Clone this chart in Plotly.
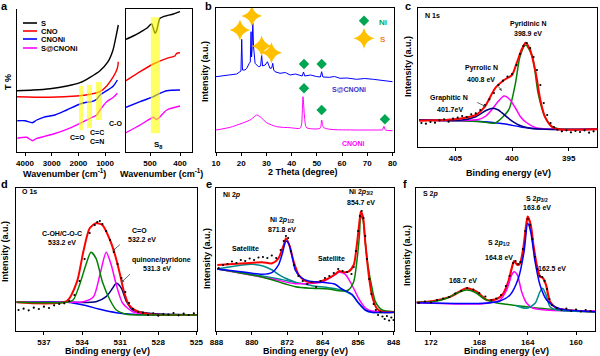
import plotly.graph_objects as go

FONT = "Arial, Liberation Sans, sans-serif"
W, H = 600, 356

# ---------------- Panel a : FTIR ----------------
a_wn_S = [4300, 3700, 3063, 2426, 1939, 1564, 1189, 889, 702, 563, 503]
a_T_S = [61.3, 62, 63.3, 66, 69.3, 74.7, 81.3, 90.3, 102, 119, 127]
a_wn_CNO = [4300, 3063, 2062, 1564, 1189, 938, 689, 539, 503]
a_T_CNO = [55.3, 54.7, 56, 57.7, 60.3, 66, 75.3, 83.7, 90.3]
a_wn_CNONi = [4290, 4000, 3726, 3561, 3313, 2875, 2437, 1939, 1688, 1501, 1313, 1189, 938, 689, 539]
a_T_CNONi = [31.3, 31.3, 29.3, 32, 34.7, 37, 42, 48, 49.7, 50.3, 52.7, 57, 61.3, 66, 72]
a_wn_SCNONi = [4290, 3940, 3726, 3561, 3313, 2938, 2437, 1939, 1564, 1313, 1189, 938, 689, 539]
a_T_SCNONi = [13.7, 14.7, 11.3, 13.7, 15.3, 18, 22.7, 28.7, 33.7, 37, 42, 50.3, 54.7, 58.7]
a_names = ["S", "CNO", "CNONi", "S@CNONi"]
a_colors = ["#000000", "#FF0000", "#0000FF", "#FF00FF"]

# inset (S8 region)
ai_wn_S = [580, 556, 533, 511, 500, 494, 489, 483, 478, 472, 467, 456, 444, 422, 400]
ai_T_S = [112.7, 116, 119.7, 123.7, 127, 128, 123.7, 118.7, 121.3, 128.7, 133.7, 135.3, 136.3, 138, 140.3]
ai_wn_CNO = [580, 533, 489, 444, 417, 411, 400]
ai_T_CNO = [71.3, 80.3, 88, 93.7, 96, 98.7, 99.3]
ai_wn_CNONi = [580, 533, 489, 467, 444, 400]
ai_T_CNONi = [44.7, 50.3, 55.3, 58.7, 61.3, 62]
ai_wn_SCNONi = [580, 533, 497, 489, 480, 472, 444, 400]
ai_T_SCNONi = [19.3, 27, 33.7, 34.7, 32.7, 33.7, 42, 46]

# ---------------- Panel b : XRD ----------------
b_theta_SCNONi = [10.0, 12.9, 15.6, 18.2, 19.5, 19.9, 20.2, 20.5, 21.5, 22.2, 23.2, 23.6, 23.9, 24.1, 24.3,
                  24.6, 24.9, 25.5, 26.8, 27.7, 28.1, 28.5, 29.5, 30.4, 31.4, 32.1, 32.5, 32.9, 33.4, 35.4,
                  37.5, 39.4, 41.5, 44.2, 44.7, 45.2, 47.5, 49.8, 51.4, 51.9, 52.4, 55.0, 57.0, 59.2, 62.0,
                  65.8, 69.0, 72.4, 76.0, 80.0]
b_I_SCNONi = [75.3, 76.0, 77.0, 78.0, 80.3, 81.0, 112.7, 82.0, 82.0, 83.7, 88.7, 90.0, 120.3, 95.0, 102.0,
              128.7, 105.0, 88.7, 85.3, 86.0, 97.0, 86.0, 87.0, 90.3, 83.7, 84.0, 88.7, 82.0, 80.3, 78.7,
              79.5, 77.0, 78.0, 76.0, 80.0, 76.0, 77.0, 75.5, 75.0, 80.3, 75.0, 74.7, 75.5, 73.7, 74.0,
              72.7, 73.5, 72.7, 71.5, 70.3]
b_theta_CNONi = [10.0, 15.6, 19.5, 23.5, 25.5, 26.1, 27.5, 30.1, 34.1, 39.4, 43.3, 43.9, 44.5, 45.1, 45.7,
                 46.5, 51.3, 51.9, 52.6, 55.2, 65.8, 75.0, 76.0, 76.6, 77.2, 80.0]
b_I_CNONi = [22.0, 24.7, 28.0, 32.0, 36.0, 37.0, 35.3, 29.3, 25.3, 24.3, 23.7, 27.0, 55.3, 35.0, 25.0,
             23.7, 23.7, 32.0, 24.7, 22.7, 22.0, 22.0, 22.0, 25.7, 22.0, 21.3]
b_S_theta = [19.5, 24.2, 28.1, 32.0]
b_S_I = [122, 136, 106, 99.3]
b_Ni_theta = [44.9, 51.9, 44.9, 51.9, 77.0]
b_Ni_I = [88, 88, 63.7, 42, 32.7]

# ---------------- Panel c : N 1s ----------------
c_bg_x = [408.2, 404.4, 402.1, 400.6, 399.1, 397.9, 396.5, 392.5]
c_bg_y = [27, 26.3, 25, 23, 19.7, 18.3, 17.7, 17.7]
c_pyridinic_x = [408.2, 404.4, 402.7, 401.5, 400.3, 399.7, 399.3, 398.8, 398.2, 397.7, 397.1, 396.5, 395.9, 395.0, 392.5]
c_pyridinic_y = [27, 26.3, 25.3, 24.0, 37, 63.7, 90.3, 102, 90.3, 53.7, 30.3, 21, 18.3, 17.7, 17.7]
c_pyrrolic_x = [408.2, 404.4, 403.0, 402.3, 401.8, 401.2, 400.7, 400.2, 399.7, 399.2, 398.8, 397.9, 396.5, 392.5]
c_pyrrolic_y = [27, 26.5, 27.5, 31, 37, 46, 51, 47.5, 39, 29.5, 25, 19.3, 17.7, 17.7]
c_graphitic_x = [408.2, 404.4, 403.2, 402.7, 402.2, 401.7, 401.2, 400.9, 400.2, 399.4, 398.5, 397.1, 392.5]
c_graphitic_y = [27, 27, 30.3, 33.7, 37, 38.7, 37, 34.3, 27.7, 22, 19, 17.7, 17.7]
c_env_x = [408.2, 405.9, 404.4, 403.2, 402.4, 401.5, 400.7, 400.0, 399.6, 399.1, 398.8, 398.4, 397.9, 397.5,
           397.1, 396.5, 395.9, 392.5]
c_env_y = [26.3, 27, 28.7, 32, 40.3, 58.7, 67, 72, 83.7, 98.7, 104.3, 97, 73.7, 47, 30.3, 20.3, 17.7, 17.7]
c_dat_x = [408.0, 407.6, 407.2, 406.8, 406.4, 406.0, 405.6, 405.2, 404.8, 404.4, 404.0, 403.6, 403.2, 402.8,
           402.4, 402.0, 401.6, 401.2, 400.8, 400.4, 400.0, 399.6, 399.3, 399.0, 398.7, 398.4, 398.1, 397.8,
           397.5, 397.2, 396.9, 396.6, 396.3, 396.0, 395.6, 395.2, 394.8, 394.4, 394.0, 393.6, 393.2, 392.8]
c_dat_y = [24.0, 23.3, 25.0, 24.3, 26.7, 27.7, 25.3, 28.3, 29.3, 31.0, 30.0, 32.7, 33.7, 37.0,
           42.0, 47.7, 54.0, 62.0, 66.3, 70.3, 73.0, 82.0, 93.0, 101.0, 104.0, 99.0, 90.0, 77.0,
           62.0, 44.0, 32.0, 24.0, 20.0, 17.3, 15.7, 16.7, 14.7, 16.0, 15.0, 16.7, 14.3, 15.7]

# ---------------- Panel d : O 1s ----------------
d_bg_x = [539.15, 535.2, 533.9, 532.6, 531.3, 530.0, 524.95]
d_bg_y = [28.7, 28.7, 26, 21.7, 18.3, 16.7, 16]
d_coh_x = [539.15, 535.2, 534.7, 534.2, 533.7, 533.3, 532.9, 532.4, 531.8, 531.3, 530.5, 529.5, 524.95]
d_coh_y = [28.7, 28.7, 31, 46, 66, 78.7, 72.7, 49.3, 31, 21, 16.7, 16, 16]
d_co_x = [539.15, 535.2, 533.9, 533.1, 532.6, 532.1, 531.7, 531.3, 530.8, 530.0, 528.7, 524.95]
d_co_y = [28.7, 28.7, 29.3, 34.3, 56, 78.7, 66, 46, 27.7, 19.3, 16.7, 16]
d_quin_x = [539.15, 535.2, 532.9, 532.1, 531.6, 531.3, 530.9, 530.5, 530.0, 528.7, 524.95]
d_quin_y = [28.7, 28.7, 29.3, 34.3, 42.7, 47.7, 42.7, 29.3, 21, 17.7, 16]
d_env_x = [539.15, 535.2, 534.4, 533.9, 533.4, 532.9, 532.4, 531.8, 531.4, 531.0, 530.7, 530.3, 529.7, 528.7, 524.95]
d_env_y = [28.7, 30, 49.3, 79.3, 102.7, 107.7, 106, 91, 76, 56, 39.3, 26, 20, 16.7, 16]
d_dat_x = [539.0, 538.6, 538.2, 537.8, 537.4, 537.0, 536.6, 536.2, 535.8, 535.4, 535.0, 534.6, 534.2, 533.8,
           533.4, 533.0, 532.8, 532.6, 532.4, 532.1, 531.8, 531.5, 531.2, 530.9, 530.6, 530.3, 530.0, 529.6,
           529.2, 528.8, 528.4, 528.0, 527.6, 527.2, 526.8, 526.4, 526.0, 525.6, 525.2]
d_dat_y = [21.0, 22.3, 20.7, 23.3, 22.0, 24.3, 23.0, 25.7, 27.0, 27.7, 30.0, 36.0, 50.0, 72.0,
           98.0, 106.0, 109.0, 110.0, 107.0, 100.0, 91.0, 79.0, 67.0, 53.0, 39.0, 28.0, 22.0, 19.0,
           18.3, 16.0, 17.7, 15.3, 17.0, 16.3, 18.0, 15.7, 17.3, 16.0, 17.7]

# ---------------- Panel e : Ni 2p ----------------
e_bg_x = [887.8, 881.5, 875.4, 870.2, 866.4, 862.7, 859.7, 857.4, 855.9, 854.4, 852.9, 847.9]
e_bg_y = [62, 57.7, 53.3, 48.7, 45.3, 43.3, 41, 36, 27.7, 21, 18.7, 18.7]
e_sat1_x = [887.8, 885.2, 882.2, 880.0, 877.7, 875.4, 874.0, 872.4, 870.2]
e_sat1_y = [62, 64, 66, 66.7, 65.3, 61, 56.7, 52.7, 48.7]
e_p12_x = [887.8, 881.5, 877.7, 875.4, 874.0, 873.1, 872.3, 871.7, 870.9, 870.2, 869.1, 867.2, 864.2, 861.2,
           859.7, 857.4, 855.9, 854.4, 852.9, 847.9]
e_p12_y = [62, 58.7, 56.7, 58.7, 66, 77.7, 90, 87.7, 74.3, 61, 54.3, 50, 48.7, 46.7, 42, 36.7, 28, 21, 18.7, 18.7]
e_sat2_x = [887.8, 881.5, 875.4, 870.2, 866.4, 864.2, 861.9, 860.3, 858.9, 857.4, 855.9, 854.4, 852.9, 847.9]
e_sat2_y = [62, 57, 52, 47.3, 47.7, 48.7, 54.3, 58.7, 56.7, 46, 32.7, 23.3, 20, 19.3]
e_p32_x = [887.8, 877.7, 870.2, 866.4, 862.7, 859.7, 858.2, 857.0, 856.3, 855.7, 855.4, 854.9, 854.4, 853.8,
           853.0, 852.1, 850.6, 847.9]
e_p32_y = [62, 54, 44.3, 42.7, 42, 40, 41, 49.3, 69.3, 96, 115.3, 111, 89.3, 66, 46, 29.3, 21, 19.3]
e_env_x = [887.8, 885.2, 881.5, 877.7, 875.4, 874.0, 872.8, 872.3, 871.5, 870.6, 869.4, 867.9, 865.7, 862.7,
           861.2, 860.3, 859.3, 858.2, 857.0, 856.3, 855.7, 855.4, 854.9, 854.4, 853.6, 852.9, 851.8, 850.6, 847.9]
e_env_y = [66, 66.7, 67.7, 68.7, 67.7, 72.7, 86, 92.7, 85.3, 70, 56, 50, 48.7, 52.7,
           56.7, 60, 58.7, 59.3, 66, 86, 109.3, 119.3, 114.3, 89.3, 56, 36, 22.7, 19.3, 18.7]
e_dat_x = [887.5, 886.5, 885.5, 884.5, 883.5, 882.5, 881.5, 880.5, 879.5, 878.5, 877.5, 876.5, 875.5, 874.5,
           873.5, 872.8, 872.3, 871.8, 871.2, 870.5, 869.5, 868.5, 867.5, 866.5, 865.5, 864.5, 863.5, 862.5,
           861.5, 860.5, 859.5, 858.5, 857.5, 857.0, 856.5, 856.0, 855.6, 855.2, 854.8, 854.4, 854.0, 853.5,
           853.0, 852.5, 852.0, 851.5, 851.0, 850.5, 850.0, 849.5, 849.0, 848.5, 848.0]
e_dat_y = [63.0, 66.0, 67.0, 69.5, 68.0, 71.0, 70.0, 72.5, 71.0, 73.5, 74.0, 73.0, 75.5, 73.0,
           81.0, 90.0, 95.0, 93.0, 80.0, 66.0, 55.0, 50.0, 47.0, 49.0, 44.0, 50.0, 53.0, 55.0,
           58.0, 62.0, 60.0, 59.0, 57.0, 64.0, 80.0, 100.0, 115.0, 120.0, 113.0, 95.0, 72.0, 52.0,
           37.0, 27.0, 21.0, 16.0, 19.0, 14.5, 12.0, 15.0, 10.5, 13.5, 11.0]

# ---------------- Panel f : S 2p ----------------
f_sox_x = [173.18, 171.8, 170.7, 169.9, 169.05, 168.36, 167.67, 166.84, 165.74, 164.08, 162.98, 161.32, 158.43]
f_sox_y = [28.7, 29.3, 32.7, 37.7, 41, 38.7, 32.7, 28.7, 26.7, 24.3, 22.7, 21, 19.3]
f_p32_x = [173.18, 167.67, 166.29, 165.46, 164.77, 164.3, 164.0, 163.75, 163.39, 162.98, 162.43, 161.6, 160.77, 158.43]
f_p32_y = [28.3, 27.7, 30, 36, 52.7, 79.3, 107.7, 99.3, 69.3, 46, 31, 23.3, 21, 19.3]
f_p12_x = [173.18, 167.67, 166.29, 165.74, 165.32, 165.13, 164.85, 164.5, 164.08, 163.53, 162.15, 158.43]
f_p12_y = [28.3, 27.3, 31, 41, 56, 59.3, 56, 39.3, 27.7, 22.7, 20.7, 20]
f_p3_x = [165.0, 164.08, 163.39, 162.98, 162.76, 162.48, 162.15, 161.6, 158.43]
f_p3_y = [25.5, 22.7, 27.7, 39.3, 42.7, 36, 24.3, 21, 19.3]
f_env_x = [173.18, 171.8, 170.4, 169.05, 168.22, 167.39, 166.56, 166.01, 165.6, 165.32, 165.13, 164.85, 164.63,
           164.36, 164.14, 164.0, 163.75, 163.53, 163.25, 162.98, 162.76, 162.48, 162.15, 161.6, 160.77, 158.43]
f_env_y = [28.7, 30, 34.3, 42.7, 39.3, 31, 32, 37.7, 49.3, 62.7, 70, 66, 67.7,
           82.7, 104.3, 114.3, 106, 86, 66, 54.3, 53.3, 46, 29.3, 22.7, 21, 19.3]
f_dat_x = [173.0, 172.5, 172.0, 171.5, 171.0, 170.5, 170.0, 169.5, 169.0, 168.5, 168.0, 167.5, 167.0, 166.6,
           166.2, 165.8, 165.5, 165.2, 165.0, 164.8, 164.6, 164.4, 164.2, 164.0, 163.8, 163.6, 163.4, 163.2,
           163.0, 162.8, 162.6, 162.4, 162.2, 162.0, 161.6, 161.2, 160.8, 160.4, 160.0, 159.6, 159.2, 158.8]
f_dat_y = [28.0, 29.5, 28.5, 31.0, 32.5, 34.0, 37.5, 40.0, 43.0, 41.5, 38.0, 34.5, 31.0, 32.5,
           36.0, 45.0, 55.0, 68.0, 70.0, 67.0, 69.0, 82.0, 100.0, 112.0, 106.0, 92.0, 74.0, 62.0,
           55.0, 54.0, 50.0, 42.0, 32.0, 26.0, 23.0, 21.0, 22.5, 20.0, 21.5, 19.5, 21.0, 20.0]

RED, GREEN, BLUE, MAG, NAVY, TEAL = "#FF0000", "#008000", "#0000FF", "#FF00FF", "#000080", "#008B8B"

fig = go.Figure()


def ax_names(n):
    return ("x" if n == 1 else f"x{n}"), ("y" if n == 1 else f"y{n}")


def line(x, y, n, color, width=1.5, smooth=True):
    xa, ya = ax_names(n)
    fig.add_trace(go.Scatter(x=x, y=y, xaxis=xa, yaxis=ya, mode="lines",
                             line=dict(color=color, width=width,
                                       shape="spline" if smooth else "linear",
                                       smoothing=0.7 if smooth else None),
                             showlegend=False, hoverinfo="skip"))


def dots(x, y, n):
    xa, ya = ax_names(n)
    fig.add_trace(go.Scatter(x=x, y=y, xaxis=xa, yaxis=ya, mode="markers",
                             marker=dict(color="black", size=2.2),
                             showlegend=False, hoverinfo="skip"))


def marks(x, y, n, symbol, color, size):
    xa, ya = ax_names(n)
    fig.add_trace(go.Scatter(x=x, y=y, xaxis=xa, yaxis=ya, mode="markers",
                             marker=dict(symbol=symbol, color=color, size=size, line=dict(width=0)),
                             showlegend=False, hoverinfo="skip"))


# panel a
for xs, ys, col in zip([a_wn_S, a_wn_CNO, a_wn_CNONi, a_wn_SCNONi],
                       [a_T_S, a_T_CNO, a_T_CNONi, a_T_SCNONi], a_colors):
    line(xs, ys, 1, col, 1.4)
for xs, ys, col in zip([ai_wn_S, ai_wn_CNO, ai_wn_CNONi, ai_wn_SCNONi],
                       [ai_T_S, ai_T_CNO, ai_T_CNONi, ai_T_SCNONi], a_colors):
    line(xs, ys, 2, col, 1.4)

# panel b
line(b_theta_SCNONi, b_I_SCNONi, 3, BLUE, 1.0, smooth=False)
line(b_theta_CNONi, b_I_CNONi, 3, MAG, 1.0)
marks(b_S_theta, b_S_I, 3, "star-diamond", "#FFC000", 15)
marks(b_Ni_theta, b_Ni_I, 3, "diamond", "#00A651", 8)
marks([68.7], [131.3], 3, "diamond", "#00A651", 8)
marks([68.7], [113.7], 3, "star-diamond", "#FFC000", 15)

# panel c
line(c_bg_x, c_bg_y, 4, BLUE)
line(c_pyridinic_x, c_pyridinic_y, 4, GREEN)
line(c_pyrrolic_x, c_pyrrolic_y, 4, MAG)
line(c_graphitic_x, c_graphitic_y, 4, NAVY)
line(c_env_x, c_env_y, 4, RED, 2)
dots(c_dat_x, c_dat_y, 4)

# panel d
line(d_bg_x, d_bg_y, 5, BLUE)
line(d_quin_x, d_quin_y, 5, NAVY)
line(d_co_x, d_co_y, 5, MAG)
line(d_env_x, d_env_y, 5, RED, 2)
line(d_coh_x, d_coh_y, 5, GREEN)
dots(d_dat_x, d_dat_y, 5)

# panel e
line(e_bg_x, e_bg_y, 6, TEAL)
line(e_sat1_x, e_sat1_y, 6, TEAL)
line(e_sat2_x, e_sat2_y, 6, MAG)
line(e_p32_x, e_p32_y, 6, GREEN)
line(e_env_x, e_env_y, 6, RED, 2)
line(e_p12_x, e_p12_y, 6, BLUE)
dots(e_dat_x, e_dat_y, 6)

# panel f
line(f_env_x, f_env_y, 7, RED, 2.2)
line(f_sox_x, f_sox_y, 7, GREEN)
line(f_p12_x, f_p12_y, 7, MAG)
line(f_p3_x, f_p3_y, 7, TEAL)
line(f_p32_x, f_p32_y, 7, BLUE)
dots(f_dat_x, f_dat_y, 7)

# ---------------- layout ----------------
def px2x(p):
    return p / W


def py2y(p):
    return 1 - p / H


tickfont = dict(family=FONT, size=8, color="black", weight="bold")
base_x = dict(showline=True, linecolor="black", linewidth=1, ticks="outside", ticklen=3, tickwidth=1,
              tickcolor="black", showgrid=False, zeroline=False, tickfont=tickfont, ticklabelstandoff=0)
base_y = dict(showline=True, linecolor="black", linewidth=1, ticks="", showticklabels=False,
              showgrid=False, zeroline=False)

x_spec = {
    1: ([17, 120], [4300, 440], [4000, 3000, 2000, 1000], False),
    2: ([126, 192], [580, 360], [500, 400], True),
    3: ([216, 394], [10, 80.6], [10, 20, 30, 40, 50, 60, 70, 80], True),
    4: ([418, 597], [408.3, 392.5], [405, 400, 395], True),
    5: ([16, 197], [539.2, 524.95], [537, 534, 531, 528, 525], True),
    6: ([216, 394], [888.1, 847.9], [888, 880, 872, 864, 856, 848], True),
    7: ([416, 595], [173.24, 158.43], [172, 168, 164, 160], True),
}
y_spec = {
    1: ([152, 9], [0, 143]),
    2: ([152, 9], [0, 143]),
    3: ([152, 8], [0, 144]),
    4: ([147, 8], [0, 139]),
    5: ([331, 188], [0, 143]),
    6: ([331, 188], [0, 143]),
    7: ([331, 188], [0, 143]),
}
layout_axes = {}
for n in range(1, 8):
    xa, ya = ax_names(n)
    xd, xr, tv, mir = x_spec[n]
    yd, yr = y_spec[n]
    xk = "xaxis" if n == 1 else f"xaxis{n}"
    yk = "yaxis" if n == 1 else f"yaxis{n}"
    layout_axes[xk] = dict(base_x, domain=[px2x(xd[0]), px2x(xd[1])], range=xr, tickvals=tv,
                           anchor=ya, mirror=mir)
    layout_axes[yk] = dict(base_y, domain=[py2y(yd[0]), py2y(yd[1])], range=yr, anchor=xa, mirror=mir)

ann = []


def T(x, y, s, xr="paper", yr="paper", size=7, color="black", xanchor="center", angle=0, bold=True):
    ann.append(dict(x=x, y=y, xref=xr, yref=yr, text=s, showarrow=False, xanchor=xanchor, yanchor="middle",
                    textangle=angle,
                    font=dict(family=FONT, size=size, color=color, weight="bold" if bold else "normal")))


def P(px, py, s, size=9, angle=0, xanchor="center"):
    T(px2x(px), py2y(py), s, size=size, angle=angle, xanchor=xanchor)


def arrow(x0, y0, x1, y1, n):
    xa, ya = ax_names(n)
    ann.append(dict(x=x1, y=y1, ax=x0, ay=y0, xref=xa, yref=ya, axref=xa, ayref=ya, text="",
                    showarrow=True, arrowhead=2, arrowsize=0.7, arrowwidth=0.8, arrowcolor="#444444"))


# panel letters
for px, py, s in [(4, 6, "a"), (208, 6, "b"), (408, 6, "c"), (4, 184, "d"), (209, 184, "e"), (405, 184, "f")]:
    P(px, py, s, size=11)

# axis titles
P(64, 173, "Wavenumber (cm<sup>-1</sup>)")
P(161, 173, "Wavenumber (cm<sup>-1</sup>)")
P(303, 172, "2 Theta (degree)")
P(508, 173, "Binding energy (eV)")
P(107, 351, "Binding energy (eV)")
P(305, 351, "Binding energy (eV)")
P(506, 351, "Binding energy (eV)")
P(8, 82, "T %", angle=-90)
P(205, 72, "Intensity (a.u.)", angle=-90)
P(408, 67, "Intensity (a.u.)", angle=-90)
P(5, 252, "Intensity (a.u.)", angle=-90)
P(207, 258, "Intensity (a.u.)", angle=-90)
P(407, 256, "Intensity (a.u.)", angle=-90)

# panel a legend & labels
shapes = []
for i, (nm, col) in enumerate(zip(a_names, a_colors)):
    yv = [129, 121, 113, 104][i]
    shapes.append(dict(type="line", xref="x", yref="y", x0=4075, x1=3550, y0=yv, y1=yv,
                       line=dict(color=col, width=1.6)))
    T(3475, yv, nm, "x", "y", size=7.5, xanchor="left")
T(2051, 15, "C=O", "x", "y")
T(1302, 20, "C=C", "x", "y")
T(1302, 11, "C=N", "x", "y")
T(627, 29, "C-O", "x", "y")
T(474, 7, "S<sub>8</sub>", "x2", "y2", size=8)

# yellow highlight bands
for x0, x1, y0, y1, xr, yr in [(1976, 1826, 22, 66, "x", "y"), (1676, 1489, 24, 67, "x", "y"),
                               (1339, 1114, 32, 70, "x", "y"), (497, 467, 18.7, 134.7, "x2", "y2")]:
    shapes.append(dict(type="rect", xref=xr, yref=yr, x0=x0, x1=x1, y0=y0, y1=y1,
                       fillcolor="rgba(255,255,0,0.6)", line=dict(width=0), layer="above"))

# panel b labels
T(76.1, 129.3, "Ni", "x3", "y3", size=8, color="#00A651")
T(76.1, 112.7, "S", "x3", "y3", size=8, color="#F08020")
T(62.9, 62.7, "S@CNONi", "x3", "y3", size=7, color="#3333CC")
T(64.5, 8.7, "CNONi", "x3", "y3", size=7, color="#FF00FF")

# panel c labels
T(407.9, 132, "N 1s", "x4", "y4", xanchor="left")
T(398.56, 123, "Pyridinic N", "x4", "y4")
T(398.56, 114, "398.9 eV", "x4", "y4")
T(402.71, 79, "Pyrrolic N", "x4", "y4")
T(402.71, 68, "400.8 eV", "x4", "y4")
T(405.54, 49, "Graphitic N", "x4", "y4")
T(405.45, 38, "401.7eV", "x4", "y4")
arrow(401.3, 62, 400.9, 56, 4)
arrow(403.2, 45.3, 402.3, 40.3, 4)

# panel d labels
T(538.9, 139, "O 1s", "x5", "y5", xanchor="left")
T(535.6, 97, "C-OH/C-O-C", "x5", "y5")
T(535.6, 88, "533.2 eV", "x5", "y5")
T(529.5, 100, "C=O", "x5", "y5")
T(529.3, 91, "532.2 eV", "x5", "y5")
T(527.75, 71, "quinone/pyridone", "x5", "y5")
T(528.1, 63, "531.3 eV", "x5", "y5")
arrow(530.9, 87.7, 531.6, 80, 5)
arrow(530.1, 58.3, 530.9, 48.7, 5)

# panel e labels
T(886.9, 136, "Ni 2<i>p</i>", "x6", "y6", xanchor="left")
T(873.25, 111, "Ni 2<i>p</i><sub>1/2</sub>", "x6", "y6")
T(873.25, 101, "871.8 eV", "x6", "y6")
T(855.4, 139, "Ni 2<i>p</i><sub>3/2</sub>", "x6", "y6")
T(855.4, 128, "854.7 eV", "x6", "y6")
T(881.5, 82, "Satellite", "x6", "y6")
T(862.1, 73, "Satellite", "x6", "y6")

# panel f labels
T(172.83, 137, "S 2<i>p</i>", "x7", "y7", xanchor="left")
T(163.2, 132, "S 2<i>p</i><sub>3/2</sub>", "x7", "y7")
T(163.2, 123, "163.6 eV", "x7", "y7")
T(166.37, 88, "S 2<i>p</i><sub>1/2</sub>", "x7", "y7")
T(166.37, 74, "164.8 eV", "x7", "y7")
T(161.98, 63, "162.5 eV", "x7", "y7")
T(169.35, 51, "168.7 eV", "x7", "y7")

fig.update_layout(width=W, height=H, margin=dict(l=0, r=0, t=0, b=0, autoexpand=False),
                  paper_bgcolor="white", plot_bgcolor="white", showlegend=False,
                  annotations=ann, shapes=shapes,
                  font=dict(family=FONT, color="black"), **layout_axes)

fig.write_html("out.html", config={"displayModeBar": False},
               post_script="document.body.style.margin='0px';document.body.style.overflow='hidden';")
